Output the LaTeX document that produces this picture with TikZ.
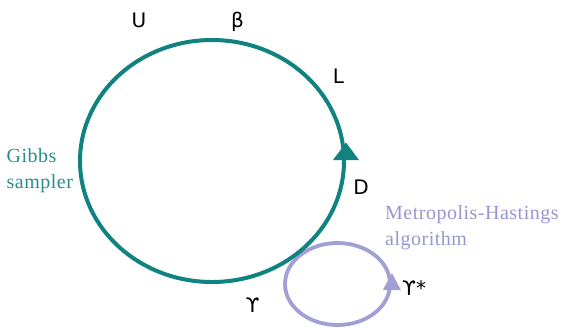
\documentclass[tikz,border=0pt]{standalone}
\usepackage{fontspec}
\setmainfont{Liberation Serif}
\newfontfamily\labfont{DejaVu Sans}
\newfontfamily\spfont[LetterSpace=2.5]{Liberation Serif}
\usetikzlibrary{shapes.geometric}
\definecolor{tealc}{RGB}{16,130,128}
\definecolor{tealt}{RGB}{40,140,140}
\definecolor{lav}{RGB}{160,160,212}
\definecolor{lavt}{RGB}{150,150,210}
\tikzset{
  loopel/.style={ellipse, draw, inner sep=0pt},
  lbl/.style={font=\labfont\fontsize{20}{22}\selectfont, inner sep=0pt, anchor=base},
  caption/.style={font=\spfont\fontsize{20}{25.5}\selectfont, inner sep=0pt, align=left, anchor=base west}
}
\begin{document}
\begin{tikzpicture}[x=1pt,y=-1pt]
\useasboundingbox (0,0) rectangle (561,327);
\node[loopel, draw=lav, line width=3.8pt, minimum width=105pt, minimum height=82pt] (mh) at (337.5,284) {};
\node[loopel, draw=tealc, line width=4pt, minimum width=264pt, minimum height=242pt] (gibbs) at (212,161) {};
\fill[tealc] (gibbs.east) ++(-13,-1) -- ++(26,0) -- ++(-13,-17.5) -- cycle;
\fill[lav] (mh.east) ++(-9,6) -- ++(18,0) -- ++(-9,-17) -- cycle;
\node[lbl] (u) at (139,27) {U};
\node[lbl] (beta) at (237.5,27) {β};
\node[lbl] (l) at (338.5,83) {L};
\node[lbl] (d) at (361,194) {D};
\node[lbl] (ups) at (252.7,312) {ϒ};
\node[lbl, anchor=base west] (upss) at (402,295) {ϒ*};
\node[caption, text=tealt] (gs) at (6.5,188) {Gibbs\\sampler};
\node[caption, text=lavt] (mhl) at (385,245) {Metropolis-Hastings\\algorithm};
\end{tikzpicture}
\end{document}
